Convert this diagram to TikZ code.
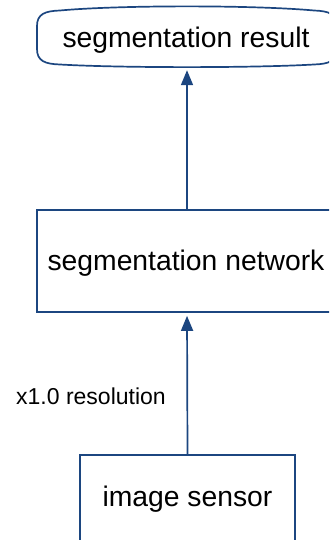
\documentclass[tikz,border=0pt]{standalone}
\usepackage{fontspec}
\setmainfont{Liberation Sans}
\usetikzlibrary{arrows.meta}
\definecolor{edgeblue}{RGB}{28,70,128}
\tikzset{
  boxlabel/.style={font=\fontsize{28.3}{33}\selectfont, text=black, inner sep=0pt},
  procbox/.style={draw=edgeblue, line width=1.7pt, boxlabel},
  flow/.style={draw=edgeblue, line width=1.7pt,
    -{Triangle[width=12pt,length=15pt]}, shorten >=3pt},
}
\begin{document}
\begin{tikzpicture}[x=1pt,y=-1pt]
  \useasboundingbox (0,0) rectangle (329,540);
  \clip (0,0) rectangle (329,540);

  % output terminal with bowed edges
  \node[boxlabel, minimum width=300pt, minimum height=59pt] (result) at (187,37.5) {};
  \node[boxlabel] (resulttext) at (186,40) {segmentation result};
  \draw[edgeblue, line width=1.7pt]
    (37,26) .. controls (37,14) and (45,11) .. (60,10.5)
    .. controls (120,5) and (254,5) .. (314,10.5)
    .. controls (329,11) and (337,14) .. (337,26)
    -- (337,49)
    .. controls (337,61) and (329,64) .. (314,64.5)
    .. controls (254,68) and (120,68) .. (60,64.5)
    .. controls (45,64) and (37,61) .. (37,49)
    -- cycle;

  % processing stage
  \node[procbox, minimum width=300pt, minimum height=102pt] (net) at (187,261) {};
  \node[boxlabel] (nettext) at (186,263) {segmentation network};

  % input stage
  \node[procbox, minimum width=215pt, minimum height=88pt] (sensor) at (187.5,499) {image sensor};

  % connectors
  \draw[flow] (sensor.north) -- (net.south);
  \draw[flow] (net.north) -- (result.south);

  \node[font=\fontsize{23}{27}\selectfont, inner sep=0pt] (res) at (91,396) {x1.0 resolution};
\end{tikzpicture}
\end{document}
